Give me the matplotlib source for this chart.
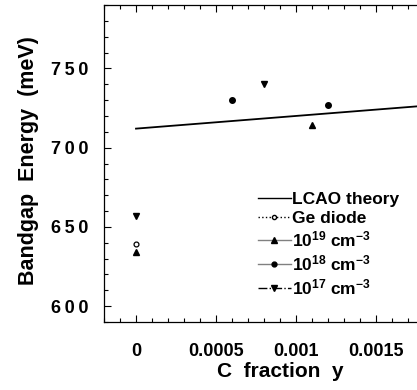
import matplotlib.pyplot as plt
from matplotlib.lines import Line2D
from matplotlib.ticker import MultipleLocator

plt.rcParams.update({
    "font.family": ["Liberation Sans", "DejaVu Sans"],
    "font.weight": "bold",
    "mathtext.default": "regular",
})

# LCAO theory line
lcao_y = [0.0, 0.0018]
lcao_e = [712.0, 726.4]

# Ge diode
ge_y = [0.0]
ge_e = [639.0]

# measured, by doping
dop19_y = [0.0, 0.0011]
dop19_e = [634.0, 714.0]
dop18_y = [0.0006, 0.0012]
dop18_e = [730.0, 727.0]
dop17_y = [0.0, 0.0008]
dop17_e = [657.0, 740.0]

xticks = [0, 0.0005, 0.001, 0.0015]
xlabels = ["0", "0.0005", "0.001", "0.0015"]
yticks = [600, 650, 700, 750]
ylabels = ["\u2009".join(str(v)) for v in yticks]

fig = plt.figure(figsize=(4.17, 3.90), dpi=100)
ax = fig.add_axes([104 / 417, 68 / 390, 320 / 417, 317 / 390])

ax.plot(lcao_y, lcao_e, color="black", lw=1.3)
ax.plot(ge_y, ge_e, ls="none", marker="o", mfc="white", mec="black", ms=3.5, mew=0.9)
ax.plot(dop19_y, dop19_e, ls="none", marker="^", color="black", ms=4.5)
ax.plot(dop18_y, dop18_e, ls="none", marker="o", color="black", ms=4)
ax.plot(dop17_y, dop17_e, ls="none", marker="v", color="black", ms=4.5)

ax.set_xlim(-0.0002, 0.0018)
ax.set_ylim(590, 790)
ax.set_xticks(xticks)
ax.set_xticklabels(xlabels, fontsize=13, fontweight="bold")
ax.set_yticks(yticks)
ax.set_yticklabels(ylabels, fontsize=13, fontweight="bold")
ax.xaxis.set_minor_locator(MultipleLocator(0.0001))
ax.yaxis.set_minor_locator(MultipleLocator(10))
ax.tick_params(which="both", direction="in", top=True, right=True, width=0.8)
ax.tick_params(which="major", length=5)
ax.tick_params(which="minor", length=3)
ax.tick_params(axis="x", which="major", pad=15)
ax.tick_params(axis="y", which="major", pad=11)
for s in ax.spines.values():
    s.set_linewidth(0.9)

ax.set_xlabel("C  fraction  y", fontsize=15, fontweight="bold")
ax.xaxis.set_label_coords(0.55, -0.125)
ax.set_ylabel("Bandgap  Energy  (meV)", fontsize=15.5, fontweight="bold")
ax.yaxis.set_label_coords(-0.203, 0.51)

handles = [
    Line2D([], [], color="black", lw=1),
    Line2D([], [], color="black", lw=1, ls=":", marker="o", mfc="white", ms=3),
    Line2D([], [], color="grey", lw=1, marker="^", mfc="black", mec="black", ms=4),
    Line2D([], [], color="grey", lw=1, marker="o", mfc="black", mec="black", ms=3.5),
    Line2D([], [], color="black", lw=1, ls="-.", marker="v", mfc="black", mec="black", ms=4),
]
labels = [
    "LCAO theory",
    "Ge diode",
    "10$^{19}$ cm$^{-3}$",
    "10$^{18}$ cm$^{-3}$",
    "10$^{17}$ cm$^{-3}$",
]
ax.legend(handles, labels, loc="upper left", bbox_to_anchor=(249 / 417, 1 - 183 / 390),
          bbox_transform=fig.transFigure, frameon=False, fontsize=12.5,
          handlelength=1.9, handletextpad=0.1, labelspacing=0.22, borderpad=0)

fig.savefig("out.png", dpi=100)
